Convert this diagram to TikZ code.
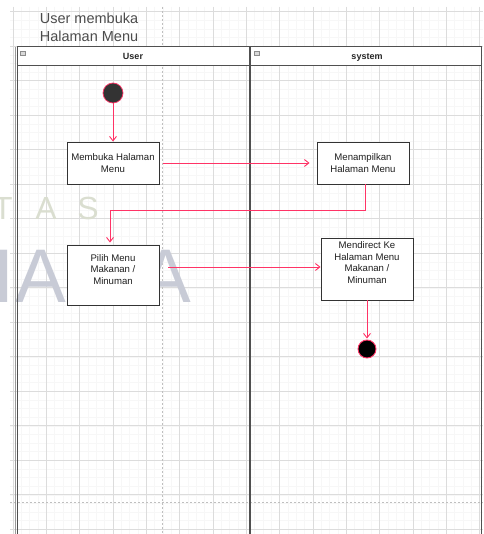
\documentclass[tikz,border=0pt]{standalone}
\usepackage{fontspec}
\setmainfont{Liberation Sans}
\usetikzlibrary{arrows.meta}
\definecolor{flowred}{RGB}{255,51,102}
\definecolor{gridmajor}{RGB}{220,220,220}
\definecolor{gridminor}{RGB}{247,247,247}
\definecolor{lanegrey}{RGB}{80,80,80}
\definecolor{wmblue}{RGB}{200,203,214}
\definecolor{wmgreen}{RGB}{218,222,208}
\tikzset{
  gridline/.style={draw=gridmajor, line width=0.6pt},
  minorline/.style={draw=gridminor, line width=0.4pt},
  pageline/.style={draw=black!25, line width=0.6pt, dash pattern=on 2pt off 2pt},
  lane/.style={draw=lanegrey, line width=1pt},
  actbox/.style={draw=black!80, line width=0.9pt, fill=white, rectangle, inner sep=0pt},
  acttext/.style={font=\fontsize{9.6}{11.7}\selectfont, text=black!88, align=center, inner sep=0pt},
  flow/.style={draw=flowred, line width=0.8pt, -{Straight Barb[length=4.5pt,width=7pt,line width=0.9pt]}},
  startdot/.style={circle, fill=black!80, draw=flowred, line width=0.7pt, minimum size=20pt, inner sep=0pt},
  enddot/.style={circle, fill=black, draw=flowred, line width=0.9pt, minimum size=18pt, inner sep=0pt},
  headtext/.style={font=\fontsize{9}{11}\selectfont\bfseries, text=black!85, inner sep=0pt, anchor=base},
  wmbig/.style={font=\fontsize{76}{76}\selectfont, text=wmblue, inner sep=0pt, anchor=base},
  wmsmall/.style={font=\fontsize{32}{32}\selectfont, text=wmgreen, inner sep=0pt, anchor=base},
  minusicon/.style={draw=black!45, fill=black!15, line width=0.4pt, minimum width=5pt, minimum height=4pt, inner sep=0pt, rectangle}
}
\begin{document}
\begin{tikzpicture}[x=1pt,y=-1pt]
\useasboundingbox (0,0) rectangle (483,534);
\fill[white] (0,0) rectangle (483,534);
% grid
\begin{scope}
\clip (10,7) rectangle (483,534);
\foreach \i in {0,...,57} \draw[minorline] ({13+8.333*\i},7) -- ({13+8.333*\i},534);
\foreach \j in {0,...,62} \draw[minorline] (10,{11.7+8.625*\j}) -- (483,{11.7+8.625*\j});
\foreach \i in {0,...,14} \draw[gridline] ({13+33.333*\i},7) -- ({13+33.333*\i},534);
\foreach \j in {0,...,15} \draw[gridline] (10,{11.7+34.5*\j}) -- (483,{11.7+34.5*\j});
\end{scope}
% page break lines
\draw[pageline] (162,7) -- (162,534);
\draw[pageline] (10,502) -- (483,502);
% watermark
\node[wmsmall] (wmT) at (3,220) {T};
\node[wmsmall] (wmA) at (46,220) {A};
\node[wmsmall] (wmS) at (88,220) {S};
\node[wmbig] (wmI) at (4,302) {I};
\node[wmbig] (wmA1) at (41,302) {A};
\node[wmbig] (wmN) at (104,302) {N};
\node[wmbig] (wmA2) at (166,302) {A};
% title
\node[font=\fontsize{14.5}{18}\selectfont, text=black!70, align=center, inner sep=0pt] (title) at (89,27) {User membuka\\Halaman Menu};
% lanes
\draw[draw=black!40, line width=0.6pt] (15.2,47) -- (15.2,534);
\draw[lane] (17,534) -- (17,47) -- (481,47) -- (481,534);
\fill[white] (17.5,47.5) rectangle (249.4,65.5);
\fill[white] (250.6,47.5) rectangle (480.5,65.5);
\draw[lane] (17,66) -- (481,66);
\draw[lane, line width=1.2pt] (250,47) -- (250,534);
\node[headtext] (huser) at (133,59.5) {User};
\node[headtext] (hsystem) at (367,59.5) {system};
\node[minusicon] (m1) at (22.5,53) {};
\node[minusicon] (m2) at (256.5,53) {};
% activities
\node[startdot] (start) at (113,93) {};
\node[actbox, minimum width=92pt, minimum height=42pt] (b1) at (113,163) {};
\node[acttext] (t1) at (113,163) {Membuka Halaman\\Menu};
\node[actbox, minimum width=92pt, minimum height=42pt] (b2) at (363,163) {};
\node[acttext] (t2) at (363,163) {Menampilkan\\Halaman Menu};
\node[actbox, minimum width=92pt, minimum height=60pt] (b3) at (113,275) {};
\node[acttext] (t3) at (113,269.5) {Pilih Menu\\Makanan /\\Minuman};
\node[actbox, minimum width=92pt, minimum height=62pt] (b4) at (367,269) {};
\node[acttext] (t4) at (367,262.5) {Mendirect Ke\\Halaman Menu\\Makanan /\\Minuman};
\node[enddot] (end) at (367,349) {};
% connectors
\draw[flow] (start.south) -- (b1.north);
\draw[flow, shorten <=4pt, shorten >=7pt] (b1.east) -- (b2.west);
\coordinate (k1) at (365,210);
\coordinate (k2) at (110,210);
\draw[flow, shorten >=2pt] (b2.south -| k1) -- (k1) -- (k2) -- (k2 |- b3.north);
\draw[flow, shorten <=9pt] ([yshift=8pt]b3.east) coordinate (a3) -- (a3 -| b4.west);
\draw[flow, shorten >=1pt] (b4.south -| end.north) -- (end.north);
\end{tikzpicture}
\end{document}
